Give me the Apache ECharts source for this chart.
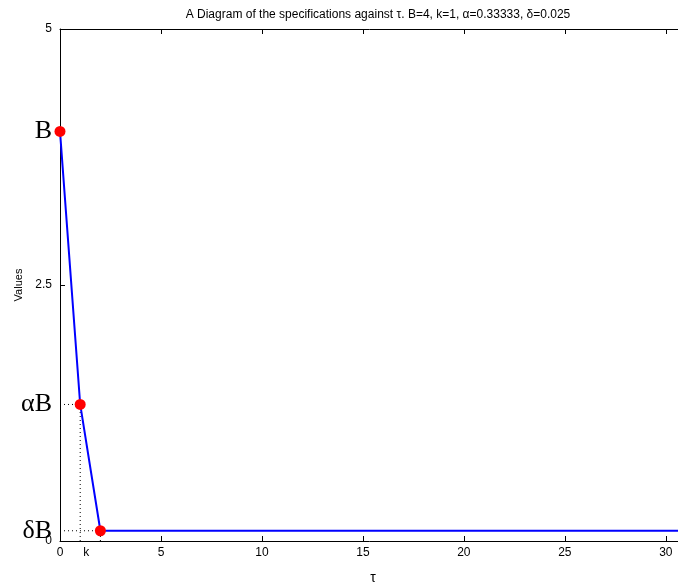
<!DOCTYPE html>
<html><head><meta charset="utf-8">
<script src="https://cdn.jsdelivr.net/npm/echarts@6/dist/echarts.min.js"></script>
<style>html,body{margin:0;padding:0;background:#fff}#c{width:678px;height:585px}</style>
</head><body><div id="c"></div>
<script>
const titleText = 'A Diagram of the specifications against \u03c4. B=4, k=1, \u03b1=0.33333, \u03b4=0.025';
const B = 4, alphaB = 1.33333, deltaB = 0.1;
const tauPoints = [0, 1, 2];
const valuePoints = [B, alphaB, deltaB];
const tauEnd = 31;
const xTicks = [0, 5, 10, 15, 20, 25, 30];
const xLabels = [0, 1, 5, 10, 15, 20, 25, 30];
const yTicks = [0, 2.5, 5];
const yTickLabels = ['0', '2.5', '5'];
const yBigValues = [deltaB, alphaB, B];
const yBigLabels = ['\u03b4B', '\u03b1B', 'B'];

const lineData = tauPoints.map((t, i) => [t, valuePoints[i]]).concat([[tauEnd, deltaB]]);
const markerData = tauPoints.map((t, i) => [t, valuePoints[i]]);
const guides = [
  [[1, 0], [1, alphaB]], [[0, alphaB], [1, alphaB]],
  [[2, 0], [2, deltaB]], [[0, deltaB], [2, deltaB]]
];

const chart = echarts.init(document.getElementById('c'));
const axisCommon = {
  axisLine: {show: true, onZero: false, lineStyle: {color: '#000', width: 1}},
  splitLine: {show: false}
};
const series = [];
guides.forEach(g => series.push({
  type: 'line', data: g, symbol: 'none', silent: true, z: 1,
  lineStyle: {color: '#000', width: 1, type: [1, 3]}
}));
series.push({type: 'line', data: lineData, symbol: 'none', z: 2,
  lineStyle: {color: '#0000ff', width: 2}});
series.push({type: 'scatter', data: markerData, symbolSize: 11, z: 3,
  itemStyle: {color: '#ff0000', opacity: 1}});

function findLabel(vals, labels, v) {
  for (let i = 0; i < vals.length; i++) if (Math.abs(vals[i] - v) < 1e-6) return labels[i];
  return '';
}

chart.setOption({
  animation: false,
  title: {text: titleText, left: 373, top: 4, textAlign: 'center',
    textStyle: {fontFamily: 'Liberation Sans', fontSize: 12, fontWeight: 'normal', color: '#000'}},
  grid: {left: 60, top: 29, bottom: 44, right: -8, containLabel: false, outerBoundsMode: 'none'},
  xAxis: [
    Object.assign({}, axisCommon, {
      type: 'value', min: 0, max: tauEnd, position: 'bottom',
      name: '\u03c4', nameLocation: 'middle', nameGap: 30, nameMoveOverlap: false,
      nameTextStyle: {fontFamily: 'Liberation Sans', fontSize: 14, color: '#000'},
      axisTick: {inside: true, length: 5, lineStyle: {color: '#000'}, customValues: xTicks},
      axisLabel: {customValues: xLabels, margin: 6, color: '#000', fontFamily: 'Liberation Sans', fontSize: 12,
        showMinLabel: true, showMaxLabel: true, hideOverlap: false,
        formatter: v => v === 1 ? '{k|k}' : String(v),
        rich: {k: {fontFamily: 'Liberation Sans', fontSize: 12, color: '#000', padding: [0, 0, 0, 12]}}}
    }),
    Object.assign({}, axisCommon, {
      type: 'value', min: 0, max: tauEnd, position: 'top',
      axisTick: {inside: true, length: 5, lineStyle: {color: '#000'}, customValues: xTicks},
      axisLabel: {show: false}
    })
  ],
  yAxis: [
    Object.assign({}, axisCommon, {
      type: 'value', min: 0, max: 5, position: 'left', offset: 0,
      name: 'Values', nameLocation: 'middle', nameGap: 36, nameRotate: 90, nameMoveOverlap: false,
      nameTextStyle: {fontFamily: 'Liberation Sans', fontSize: 11, color: '#000'},
      axisTick: {inside: true, length: 5, lineStyle: {color: '#000'}, customValues: yTicks},
      axisLabel: {customValues: yTicks, margin: 8, color: '#000', fontFamily: 'Liberation Sans', fontSize: 12,
        showMinLabel: true, showMaxLabel: true, hideOverlap: false,
        formatter: v => findLabel(yTicks, yTickLabels, v)}
    }),
    {
      type: 'value', min: 0, max: 5, position: 'left', offset: 0,
      axisLine: {show: false, onZero: false}, axisTick: {show: false}, splitLine: {show: false},
      axisLabel: {customValues: yBigValues, margin: 8, color: '#000', fontFamily: 'Liberation Serif', fontSize: 26,
        showMinLabel: true, showMaxLabel: true, hideOverlap: false,
        formatter: v => findLabel(yBigValues, yBigLabels, v)}
    }
  ],
  series: series
});
</script></body></html>
